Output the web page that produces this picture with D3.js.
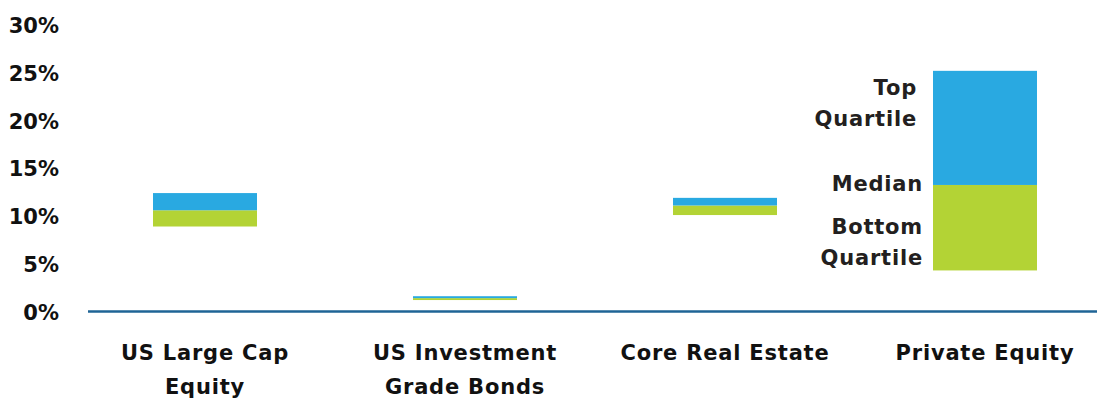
<!DOCTYPE html>
<html>
<head>
<meta charset="utf-8">
<script src="https://cdn.jsdelivr.net/npm/d3@7"></script>
<style>
  body { margin: 0; background: #fff; }
  svg text { font-family: 'DejaVu Sans', sans-serif; font-weight: 700; }
</style>
</head>
<body>
<div class="chart-wrapper"></div>
<script>
const categories = [['US Large Cap', 'Equity'], ['US Investment', 'Grade Bonds'], ['Core Real Estate'], ['Private Equity']];
const bottomQuartile = [8.9, 1.2, 10.1, 4.3];
const median = [10.6, 1.4, 11.1, 13.25];
const topQuartile = [12.4, 1.6, 11.9, 25.2];
const yTicks = [0, 5, 10, 15, 20, 25, 30];

const width = 1097;
const height = 405;

const svg = d3.select('.chart-wrapper')
.append('svg')
.attr('width', width)
.attr('height', height);

const names = categories.map(d => d.join(' '));

const x = d3.scaleBand()
.domain(names)
.range([75, 1115])
.paddingInner(0.6)
.paddingOuter(0.3);

const y = d3.scaleLinear()
.domain([0, 30])
.range([311.5, 25]);

// y axis labels only
const yAxis = svg.append('g')
.attr('transform', 'translate(59,0)')
.call(d3.axisLeft(y).tickValues(yTicks).tickSize(0).tickPadding(0).tickFormat(d => d + '%'));

yAxis.select('.domain').remove();
yAxis.selectAll('text')
.attr('font-size', '21px')
.attr('font-family', "'DejaVu Sans', sans-serif")
.attr('font-weight', 700)
.attr('fill', '#111')
.attr('dy', '0.36em');

// bars: bottom quartile -> median (green), median -> top quartile (blue)
const bars = svg.append('g');

bars.selectAll('.low')
.data(names)
.enter()
.append('rect')
.attr('class', 'low')
.attr('x', d => x(d))
.attr('width', x.bandwidth())
.attr('y', (d, i) => y(median[i]))
.attr('height', (d, i) => y(bottomQuartile[i]) - y(median[i]))
.attr('fill', '#b3d335');

bars.selectAll('.high')
.data(names)
.enter()
.append('rect')
.attr('class', 'high')
.attr('x', d => x(d))
.attr('width', x.bandwidth())
.attr('y', (d, i) => y(topQuartile[i]))
.attr('height', (d, i) => y(median[i]) - y(topQuartile[i]))
.attr('fill', '#29a9e1');

// baseline
svg.append('line')
.attr('x1', 88)
.attr('x2', width)
.attr('y1', y(0))
.attr('y2', y(0))
.attr('stroke', '#1f6496')
.attr('stroke-width', 2.5);

// category labels
const catLabels = svg.append('g')
.selectAll('text')
.data(categories)
.enter()
.append('text')
.attr('x', (d, i) => x(names[i]) + x.bandwidth() / 2)
.attr('y', 360)
.attr('text-anchor', 'middle')
.attr('font-size', '21px')
.attr('letter-spacing', '0.8px')
.attr('fill', '#111');

catLabels.selectAll('tspan')
.data(d => d)
.enter()
.append('tspan')
.attr('x', function() { return d3.select(this.parentNode).attr('x') })
.attr('dy', (d, i) => i === 0 ? 0 : 34)
.text(d => d);

// annotations next to the private equity bar
const pe = names.length - 1;
const notes = [
  {lines: ['Top', 'Quartile'], y: y(topQuartile[pe]) + 24, right: 917},
  {lines: ['Median'], y: y(median[pe]) + 6, right: 923},
  {lines: ['Bottom', 'Quartile'], y: y(median[pe]) + 49, right: 923}
];

const noteText = svg.append('g')
.selectAll('text')
.data(notes)
.enter()
.append('text')
.attr('x', d => d.right)
.attr('y', d => d.y)
.attr('text-anchor', 'end')
.attr('font-size', '21px')
.attr('letter-spacing', '0.8px')
.attr('fill', '#231f20');

noteText.selectAll('tspan')
.data(d => d.lines.map(l => ({l, right: d.right})))
.enter()
.append('tspan')
.attr('x', d => d.right)
.attr('dy', (d, i) => i === 0 ? 0 : 31)
.text(d => d.l);
</script>
</body>
</html>
